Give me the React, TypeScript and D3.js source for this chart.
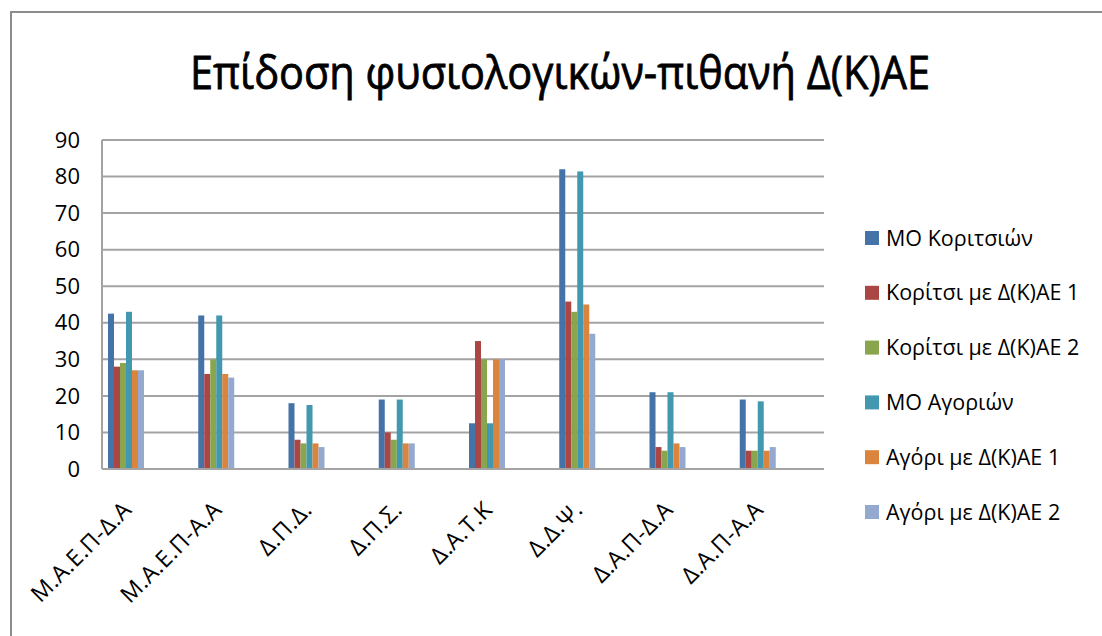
import React from "react";
import * as d3 from "d3";

const categories = ["Μ.Α.Ε.Π-Δ.Α", "Μ.Α.Ε.Π-Α.Α", "Δ.Π.Δ.", "Δ.Π.Σ.", "Δ.Α.Τ.Κ", "Δ.Δ.Ψ.", "Δ.Α.Π-Δ.Α", "Δ.Α.Π-Α.Α"];
const seriesNames = ["ΜΟ Κοριτσιών", "Κορίτσι με Δ(Κ)ΑΕ 1", "Κορίτσι με Δ(Κ)ΑΕ 2", "ΜΟ Αγοριών", "Αγόρι με Δ(Κ)ΑΕ 1", "Αγόρι με Δ(Κ)ΑΕ 2"];
const moGirls = [42.5, 42, 18, 19, 12.5, 82, 21, 19];
const girl1 = [28, 26, 8, 10, 35, 45.8, 6, 5];
const girl2 = [29, 30, 7, 8, 30, 43, 5, 5];
const moBoys = [43, 42, 17.5, 19, 12.5, 81.4, 21, 18.5];
const boy1 = [27, 26, 7, 7, 30, 45, 7, 5];
const boy2 = [27, 25, 6, 7, 30, 37, 6, 6];
const yTicks = [0, 10, 20, 30, 40, 50, 60, 70, 80, 90];
const colors = ["#4572A7", "#AA4643", "#89A54E", "#4198AF", "#DB843D", "#93A9CF"];
const title = "Επίδοση φυσιολογικών-πιθανή Δ(Κ)ΑΕ";

const seriesValues = [moGirls, girl1, girl2, moBoys, boy1, boy2];

const FONT = "'Open Sans', 'Noto Sans', 'DejaVu Sans', sans-serif";

export default function App() {
  const left = 102, right = 824, top = 140, bottom = 469;
  const x = d3.scaleBand<string>().domain(categories).range([left, right]).paddingInner(0).paddingOuter(0);
  const xs = d3.scaleBand<string>().domain(seriesNames).range([6, 42]).padding(0);
  const y = d3.scaleLinear().domain([0, 90]).range([bottom, top]);
  const grid = "#a3a3a3";

  return (
    <svg width={1102} height={636} style={{ position: "absolute", left: 0, top: 0, background: "#fff" }} fontFamily={FONT}>
      {/* outer chart border */}
      <path d="M11,636 L11,12 L1102,12" fill="none" stroke="#8c8c8c" strokeWidth={2} />
      <text x={560} y={89} textAnchor="middle" fontSize={46} fontWeight={500} textLength={740} lengthAdjust="spacingAndGlyphs" fill="#000" stroke="#000" strokeWidth={0.8}>{title}</text>

      {/* gridlines */}
      {yTicks.filter(t => t > 0).map(t => (
        <line key={t} x1={left} x2={right} y1={y(t)} y2={y(t)} stroke={grid} strokeWidth={2} />
      ))}
      {/* bars */}
      {seriesValues.map((vals, si) => (
        <g key={si} fill={colors[si]}>
          {vals.map((v, ci) => (
            <rect key={ci} x={(x(categories[ci]) ?? 0) + (xs(seriesNames[si]) ?? 0)} width={xs.bandwidth()} y={y(v)} height={y(0) - y(v)} />
          ))}
        </g>
      ))}
      {/* axes */}
      <line x1={left} x2={left} y1={top} y2={bottom} stroke={grid} strokeWidth={2} />
      <line x1={left} x2={right} y1={bottom} y2={bottom} stroke={grid} strokeWidth={2} />
      {yTicks.map(t => (
        <text key={t} x={80} y={y(t)} dy="0.35em" textAnchor="end" fontSize={22} fill="#000">{t}</text>
      ))}
      {categories.map(c => {
        const ax = (x(c) ?? 0) + 31;
        const ay = 511;
        return (
          <text key={c} x={ax} y={ay} textAnchor="end" fontSize={23} letterSpacing={0.6} fill="#000" transform={`rotate(-45,${ax},${ay})`}>{c}</text>
        );
      })}
      {/* legend */}
      {seriesNames.map((s, i) => {
        const cy = 238 + 54.8 * i;
        return (
          <g key={s}>
            <rect x={865} y={cy - 7} width={14} height={14} fill={colors[i]} />
            <text x={886} y={cy} dy="0.35em" fontSize={21.5} fill="#000">{s}</text>
          </g>
        );
      })}
    </svg>
  );
}
